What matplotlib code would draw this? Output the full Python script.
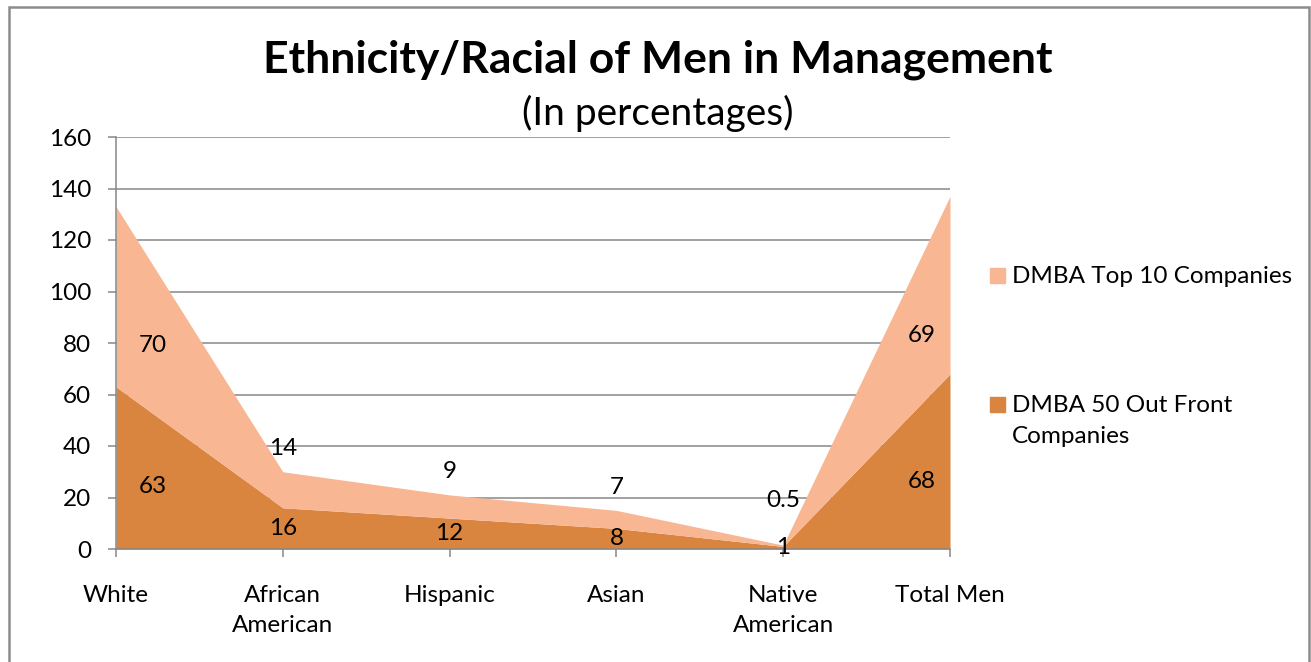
import numpy as np
import matplotlib.pyplot as plt
from matplotlib.patches import Rectangle

plt.rcParams['font.family'] = ['Lato', 'DejaVu Sans']

categories = ['White', 'African\nAmerican', 'Hispanic', 'Asian', 'Native\nAmerican', 'Total Men']
out_front_50 = [63, 16, 12, 8, 1, 68]
top_10 = [70, 14, 9, 7, 0.5, 69]
series_names = ['DMBA Top 10 Companies', 'DMBA 50 Out Front\nCompanies']

dark = '#D9853F'
light = '#F9B692'
grid_c = '#878787'
fs = 17.5

fig = plt.figure(figsize=(13.11, 6.62), dpi=100)
ax = fig.add_axes([116 / 1311, 1 - 549 / 662, (950 - 116) / 1311, (549 - 137) / 662])

x = np.arange(len(categories))
base = np.array(out_front_50, dtype=float)
upper = base + np.array(top_10, dtype=float)

ax.fill_between(x, 0, base, color=dark, linewidth=0, zorder=2)
ax.fill_between(x, base, upper, color=light, linewidth=0, zorder=2)

ax.set_xlim(0, len(categories) - 1)
ax.set_ylim(0, 160)
ax.set_yticks(range(0, 161, 20))
ax.set_xticks(x)
ax.set_xticklabels(categories, linespacing=1.55)
ax.yaxis.grid(True, color=grid_c, linewidth=1.1, zorder=0)
ax.set_axisbelow(True)
for s in ['top', 'right']:
    ax.spines[s].set_visible(False)
for s in ['left', 'bottom']:
    ax.spines[s].set_color(grid_c)
    ax.spines[s].set_linewidth(1.1)
ax.tick_params(axis='both', colors=grid_c, length=6, width=1.1, labelsize=fs, labelcolor='black')
ax.tick_params(axis='y', pad=12)
ax.tick_params(axis='x', pad=20)

# data labels: first/last points sit inside the area, the rest at the joins
n = len(x)
for i in range(n):
    if i == 0:
        xi = 0.22
    elif i == n - 1:
        xi = n - 1 - 0.17
    else:
        xi = i
    b = np.interp(xi, x, base)
    u = np.interp(xi, x, upper)
    ax.text(xi, b / 2 if 0 < i < n - 1 else b * 0.46, f'{out_front_50[i]:g}',
            ha='center', va='center', fontsize=fs, zorder=5)
    if 0 < i < n - 1:
        ty = u + (9 if top_10[i] >= 1 else 17.5)
    else:
        ty = b + 0.46 * (u - b)
    ax.text(xi, ty, f'{top_10[i]:g}', ha='center', va='center', fontsize=fs, zorder=5)

fig.text(658 / 1311, 1 - 60 / 662, 'Ethnicity/Racial of Men in Management',
         ha='center', va='center', fontsize=32, fontweight='bold')
fig.text(658 / 1311, 1 - 113 / 662, '(In percentages)',
         ha='center', va='center', fontsize=28)

# legend
for name, col, ly in [(series_names[0], light, 276), (series_names[1], dark, 405)]:
    fig.patches.append(Rectangle((990 / 1311, 1 - (ly + 7) / 662), 15 / 1311, 15 / 662,
                                 transform=fig.transFigure, color=col))
    fig.text(1012 / 1311, 1 - (ly - 10) / 662, name, ha='left', va='top',
             fontsize=fs, linespacing=1.6)

fig.patches.append(Rectangle((9 / 1311, -0.05), 1300 / 1311, 1.05 - 7 / 662,
                             transform=fig.transFigure, fill=False,
                             edgecolor='#8c8c8c', linewidth=1.8))

fig.savefig('out.png', dpi=100)
